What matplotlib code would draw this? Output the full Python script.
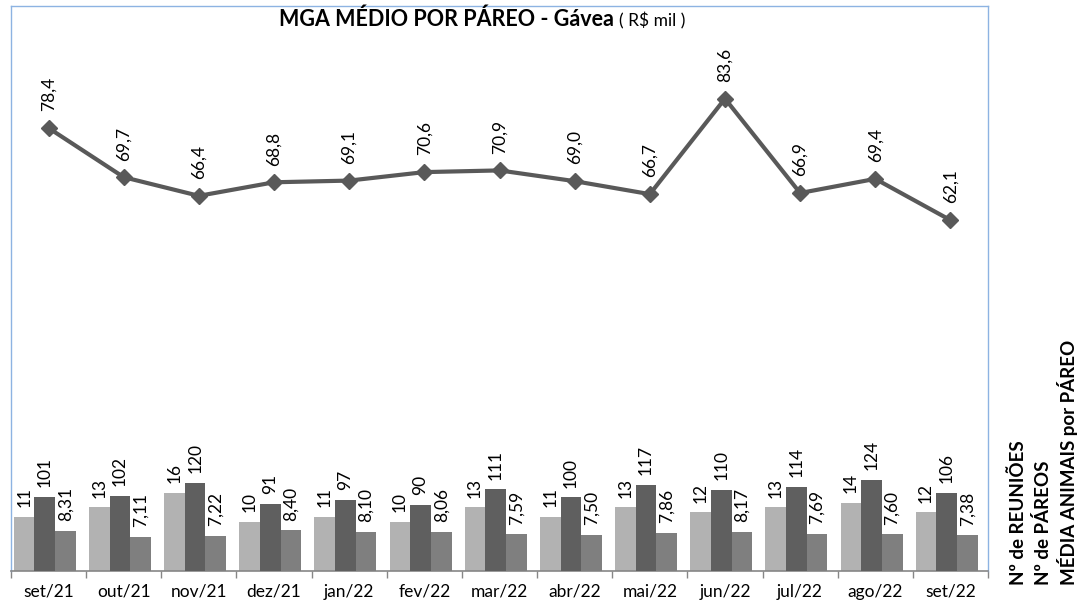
import matplotlib
matplotlib.use("Agg")
import matplotlib.pyplot as plt
import numpy as np

plt.rcParams['font.family'] = ['Lato', 'DejaVu Sans']

meses = ['set/21', 'out/21', 'nov/21', 'dez/21', 'jan/22', 'fev/22', 'mar/22',
         'abr/22', 'mai/22', 'jun/22', 'jul/22', 'ago/22', 'set/22']
mga_medio = [78.4, 69.7, 66.4, 68.8, 69.1, 70.6, 70.9, 69.0, 66.7, 83.6, 66.9, 69.4, 62.1]
reunioes = [11, 13, 16, 10, 11, 10, 13, 11, 13, 12, 13, 14, 12]
pareos = [101, 102, 120, 91, 97, 90, 111, 100, 117, 110, 114, 124, 106]
media_animais = [8.31, 7.11, 7.22, 8.40, 8.10, 8.06, 7.59, 7.50, 7.86, 8.17, 7.69, 7.60, 7.38]

def fmt(v, dec):
    if dec == 0:
        return str(int(v))
    return f"{v:.{dec}f}".replace('.', ',')

def main():
    fig = plt.figure(figsize=(10.91, 6.07), dpi=100)
    pos = [11/1091, 36/607, 977/1091, 565/607]
    x = np.arange(len(meses))
    w = 0.275

    ax = fig.add_axes(pos)
    ax_p = ax.twinx()
    ax_m = ax.twinx()
    ax_l = ax.twinx()

    series = [
        (ax, reunioes, '#b2b2b2', -w - 0.05, 115.5, 0),
        (ax_p, pareos, '#5f5f5f', -0.05, 767, 0),
        (ax_m, media_animais, '#7f7f7f', w - 0.05, 117, 2),
    ]
    for a, vals, col, off, top, dec in series:
        a.bar(x + off, vals, w, color=col, zorder=2)
        a.set_ylim(0, top)
        for xi, v in zip(x, vals):
            a.annotate(fmt(v, dec), (xi + off, v), xytext=(0, 7), textcoords='offset points',
                       rotation=90, ha='center', va='bottom', fontsize=12.5)

    ax_l.plot(x, mga_medio, color='#595959', lw=3, marker='D', ms=8, zorder=5)
    ax_l.set_ylim(0, 100)
    for xi, v in zip(x, mga_medio):
        ax_l.annotate(fmt(v, 1), (xi, v), xytext=(0, 12), textcoords='offset points',
                      rotation=90, ha='center', va='bottom', fontsize=12.5)

    for a in (ax, ax_p, ax_m, ax_l):
        a.set_xlim(-0.5, len(meses) - 0.5)
        a.set_yticks([])
        for s in a.spines.values():
            s.set_visible(False)
    for s in ('left', 'top', 'right'):
        ax.spines[s].set_visible(True)
        ax.spines[s].set_color('#8db3e2')
        ax.spines[s].set_linewidth(1)
    ax.spines['bottom'].set_visible(True)
    ax.spines['bottom'].set_color('#868686')
    ax.spines['bottom'].set_linewidth(1.2)

    ax.set_xticks(x)
    ax.set_xticklabels(meses, fontsize=12.5)
    ax.tick_params(axis='x', which='major', length=0, pad=9)
    ax.set_xticks(np.arange(-0.5, len(meses), 1), minor=True)
    ax.tick_params(axis='x', which='minor', length=5, color='#868686', width=1)

    fig.text(614/1091, 0.957, 'MGA MÉDIO POR PÁREO - Gávea', ha='right', va='baseline',
             fontsize=15.5, fontweight='bold')
    fig.text(619/1091, 0.957, '( R$ mil )', ha='left', va='baseline', fontsize=12.5)

    for xp, txt in [(1018, 'Nº de REUNIÕES'), (1043, 'Nº de PÁREOS'), (1067, 'MÉDIA ANIMAIS por PÁREO')]:
        fig.text(xp/1091, 1 - 585/607, txt, rotation=90, ha='center', va='bottom',
                 fontsize=13.5, fontweight='bold')

    fig.savefig('out.png', dpi=100)

main()
